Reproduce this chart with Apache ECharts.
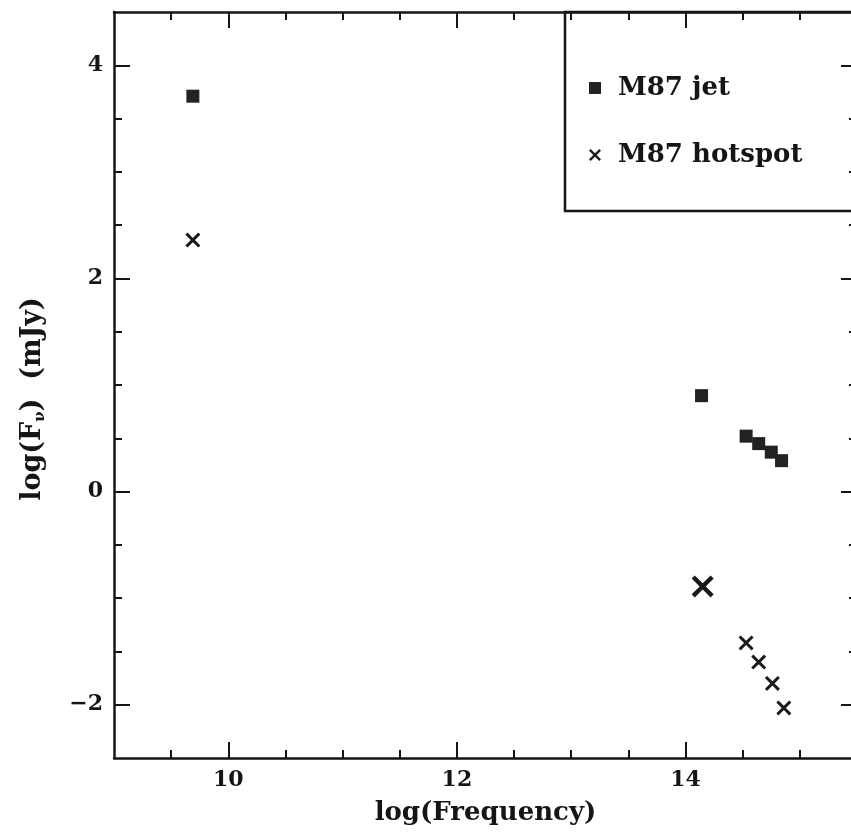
<!DOCTYPE html>
<html><head><meta charset="utf-8">
<script src="https://cdn.jsdelivr.net/npm/echarts@6/dist/echarts.min.js"></script>
<style>html,body{margin:0;padding:0;background:#fff;overflow:hidden}#c{width:851px;height:834px}</style>
</head><body><div id="c"></div>
<script>
// ---- data ----
const seriesNames = ['M87 jet', 'M87 hotspot'];
const jetFreq = [9.69, 14.14, 14.53, 14.64, 14.75, 14.84];
const jetFlux = [3.71, 0.90, 0.52, 0.45, 0.37, 0.29];
const hotFreq = [9.69, 14.15, 14.53, 14.64, 14.76, 14.86];
const hotFlux = [2.36, -0.89, -1.42, -1.60, -1.80, -2.03];
const xMajorTicks = [10, 12, 14];
const xMinorTicks = [9.5, 10.5, 11, 11.5, 12.5, 13, 13.5, 14.5, 15];
const yMajorTicks = [-2, 0, 2, 4];
const yMinorTicks = [-1.5, -1, -0.5, 0.5, 1, 1.5, 2.5, 3, 3.5];
const xRange = [9, 15.5];
const yRange = [-2.5, 4.5];
const xTitle = 'log(Frequency)';
const yTitle = 'log(F{s|ν})  (mJy)';

// ---- styling ----
const INK = '#151515';
const FONT = 'DejaVu Serif';
const crossPath = 'path://M0,1.4L1.4,0L5,3.6L8.6,0L10,1.4L6.4,5L10,8.6L8.6,10L5,6.4L1.4,10L0,8.6L3.6,5Z';

function axis(kind, position, ticks, len, opts) {
  const [mn, mx] = kind === 'x' ? xRange : yRange;
  return Object.assign({
    type: 'value', position: position, min: mn, max: mx,
    axisLine: { show: false, onZero: false },
    splitLine: { show: false },
    axisTick: { show: true, inside: true, length: len, customValues: ticks,
                lineStyle: { color: INK, width: 2 } },
    axisLabel: { show: false }
  }, opts || {});
}
const lineOn = { show: true, onZero: false, lineStyle: { color: INK, width: 2.5 } };
const labelStyle = (vals) => ({
  show: true, customValues: vals, color: INK, fontFamily: FONT, fontWeight: 'bold',
  fontSize: 22, margin: 11,
  formatter: v => String(v).replace('-', '\u2212')
});

const option = {
  backgroundColor: '#ffffff',
  animation: false,
  grid: { left: 114, top: 12, width: 743, height: 746, containLabel: false, outerBoundsMode: 'none' },
  xAxis: [
    axis('x', 'bottom', xMajorTicks, 16, {
      axisLine: lineOn, axisLabel: labelStyle(xMajorTicks),
      name: xTitle, nameLocation: 'middle', nameGap: 42,
      nameTextStyle: { color: INK, fontFamily: FONT, fontWeight: 'bold', fontSize: 26 }
    }),
    axis('x', 'bottom', xMinorTicks, 8),
    axis('x', 'top', xMajorTicks, 16, { axisLine: lineOn }),
    axis('x', 'top', xMinorTicks, 8)
  ],
  yAxis: [
    axis('y', 'left', yMajorTicks, 16, {
      axisLine: lineOn, axisLabel: labelStyle(yMajorTicks),
      name: yTitle, nameLocation: 'middle', nameGap: 66,
      nameTextStyle: { color: INK, fontFamily: FONT, fontWeight: 'bold', fontSize: 27, lineHeight: 30,
        padding: [0, 28, 0, 0],
        rich: { s: { fontFamily: FONT, fontWeight: 'bold', fontSize: 15, lineHeight: 15, verticalAlign: 'bottom', color: INK } } }
    }),
    axis('y', 'left', yMinorTicks, 8),
    axis('y', 'right', yMajorTicks, 16, { axisLine: lineOn }),
    axis('y', 'right', yMinorTicks, 8)
  ],
  legend: {
    orient: 'vertical', left: 565, top: 12,
    padding: [61, 10, 41, 24],
    itemWidth: 12, itemHeight: 12, itemGap: 37,
    textStyle: { color: INK, fontFamily: FONT, fontWeight: 'bold', fontSize: 26, lineHeight: 30, padding: [0, 0, 0, 12] },
    data: [ { name: seriesNames[0], icon: 'rect' }, { name: seriesNames[1], icon: crossPath } ]
  },
  graphic: [
    { type: 'rect', z: 10, silent: true,
      shape: { x: 565, y: 12, width: 320, height: 199 },
      style: { fill: 'none', stroke: INK, lineWidth: 2.5 } }
  ],
  series: [
    {
      name: seriesNames[0], type: 'scatter', xAxisIndex: 0, yAxisIndex: 0,
      symbol: 'rect', symbolSize: 13,
      itemStyle: { color: '#222', opacity: 1 },
      data: jetFreq.map((x, i) => [x, jetFlux[i]])
    },
    {
      name: seriesNames[1], type: 'scatter', xAxisIndex: 0, yAxisIndex: 0,
      symbol: crossPath,
      symbolSize: (val, p) => (p.dataIndex === 1 ? 22 : 15),
      itemStyle: { color: '#1a1a1a', opacity: 1 },
      data: hotFreq.map((x, i) => [x, hotFlux[i]])
    }
  ]
};
const chart = echarts.init(document.getElementById('c'), null, { renderer: 'canvas' });
chart.setOption(option);
</script></body></html>
